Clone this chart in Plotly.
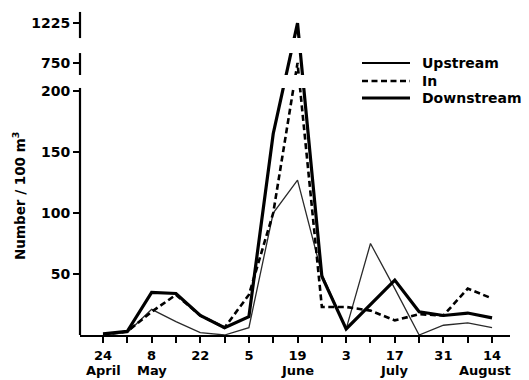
import numpy as np
import plotly.graph_objects as go

# ---- data (weekly samples) ----
dates = ["1980-04-24", "1980-05-01", "1980-05-08", "1980-05-15", "1980-05-22",
         "1980-05-29", "1980-06-05", "1980-06-12", "1980-06-19", "1980-06-26",
         "1980-07-03", "1980-07-10", "1980-07-17", "1980-07-24", "1980-07-31",
         "1980-08-07", "1980-08-14"]
upstream = [0, 2, 21, 11, 2, 0, 6, 100, 127, 50, 5, 75, 38, 0, 8, 10, 6]
in_site = [0, 3, 19, 33, 16, 6, 33, 100, 750, 23, 23, 20, 12, 17, 16, 38, 30]
downstream = [1, 3, 35, 34, 16, 6, 15, 165, 1225, 48, 5, 25, 45, 19, 16, 18, 14]

label_dates = dates[0::2]
minor_dates = dates[1::2]
tick_labels = ["24", "8", "22", "5", "19", "3", "17", "31", "14"]
month_labels = ["April", "May", "June", "July", "August"]
month_dates = ["1980-04-24", "1980-05-08", "1980-06-19", "1980-07-17", "1980-08-12"]
y_ticks = [50, 100, 150, 200, 750, 1225]
series_names = ["Upstream", "In", "Downstream"]

# ---- broken y scale: real value -> display position ----
brk_real = [0, 200, 750, 1225]
brk_disp = [0, 200, 223, 255.7]


def to_disp(v):
    return np.interp(np.asarray(v, dtype=float), brk_real, brk_disp)


FONT = "DejaVu Sans"
styles = [
    dict(color="#2a2a2a", width=1.3, dash="solid"),
    dict(color="black", width=2.6, dash="6px,3.5px"),
    dict(color="black", width=3.2, dash="solid"),
]
legend_styles = [
    dict(color="black", width=2.2, dash="solid"),
    dict(color="black", width=2.6, dash="6px,3.5px"),
    dict(color="black", width=3.2, dash="solid"),
]

fig = go.Figure()
for name, vals, st in zip(series_names, [upstream, in_site, downstream], styles):
    fig.add_trace(go.Scatter(
        x=dates, y=to_disp(vals), mode="lines", name=name,
        line=st, customdata=vals, hovertemplate="%{customdata}<extra>" + name + "</extra>",
        showlegend=False))

shapes = []
# masks producing the axis breaks
for y0, y1 in [(202.5, 213.1), (231.1, 243.4)]:
    shapes.append(dict(type="rect", xref="paper", yref="y", x0=0.01, x1=0.58,
                       y0=y0, y1=y1, fillcolor="white", line=dict(width=0),
                       layer="above"))
# broken y axis line segments
for y0, y1 in [(0, 202.5), (213.1, 231.1), (243.4, 264.8)]:
    shapes.append(dict(type="line", xref="paper", yref="y", x0=0, x1=0,
                       y0=y0, y1=y1, line=dict(color="black", width=2.2),
                       layer="above"))

annotations = []
# manual legend
leg_y_px = [63, 81, 98]
for name, st, ypx in zip(series_names, legend_styles, leg_y_px):
    yp = (335 - ypx) / 325
    shapes.append(dict(type="line", xref="paper", yref="paper",
                       x0=(362 - 80) / 430, x1=(410 - 80) / 430, y0=yp, y1=yp,
                       line=st))
    annotations.append(dict(text=name, xref="paper", yref="paper",
                            x=(420 - 80) / 430, y=yp, xanchor="left", yanchor="middle",
                            showarrow=False,
                            font=dict(family=FONT, size=14, color="black", weight="bold")))

# month names under the day ticks
for m, d in zip(month_labels, month_dates):
    annotations.append(dict(text=m, xref="x", yref="paper", x=d,
                            y=(335 - 380) / 325, xanchor="center", yanchor="bottom",
                            showarrow=False,
                            font=dict(family=FONT, size=13, color="black", weight="bold")))

annotations.append(dict(text="Number / 100 m<sup>3</sup>", xref="paper", yref="paper",
                        x=(19 - 80) / 430, y=(335 - 196) / 325, textangle=-90,
                        xanchor="center", yanchor="middle", showarrow=False,
                        font=dict(family=FONT, size=13.5, color="black", weight="bold")))

fig.update_layout(
    width=529, height=380,
    margin=dict(l=80, r=19, t=10, b=45, autoexpand=False),
    paper_bgcolor="white", plot_bgcolor="white",
    font=dict(family=FONT, size=14, color="black", weight="bold"),
    shapes=shapes, annotations=annotations, showlegend=False,
    xaxis=dict(type="date", range=["1980-04-17 09:00", "1980-08-19 04:00"],
               automargin=False,
               tickmode="array", tickvals=label_dates, ticktext=tick_labels,
               ticks="outside", ticklen=6, tickwidth=2.2, tickcolor="black",
               ticklabelstandoff=1,
               minor=dict(tickmode="array", tickvals=minor_dates, ticks="outside",
                          ticklen=6, tickwidth=2.2, tickcolor="black", showgrid=False),
               showline=True, linewidth=2.2, linecolor="black",
               showgrid=False, zeroline=False,
               tickfont=dict(family=FONT, size=13, color="black", weight="bold")),
    yaxis=dict(range=[0, 266.4], tickmode="array", automargin=False,
               tickvals=list(to_disp(y_ticks)), ticktext=[str(t) for t in y_ticks],
               ticks="outside", ticklen=6, tickwidth=2.2, tickcolor="black",
               showline=False, showgrid=False, zeroline=False,
               tickfont=dict(family=FONT, size=14, color="black", weight="bold")),
)

fig.write_html("out.html")
